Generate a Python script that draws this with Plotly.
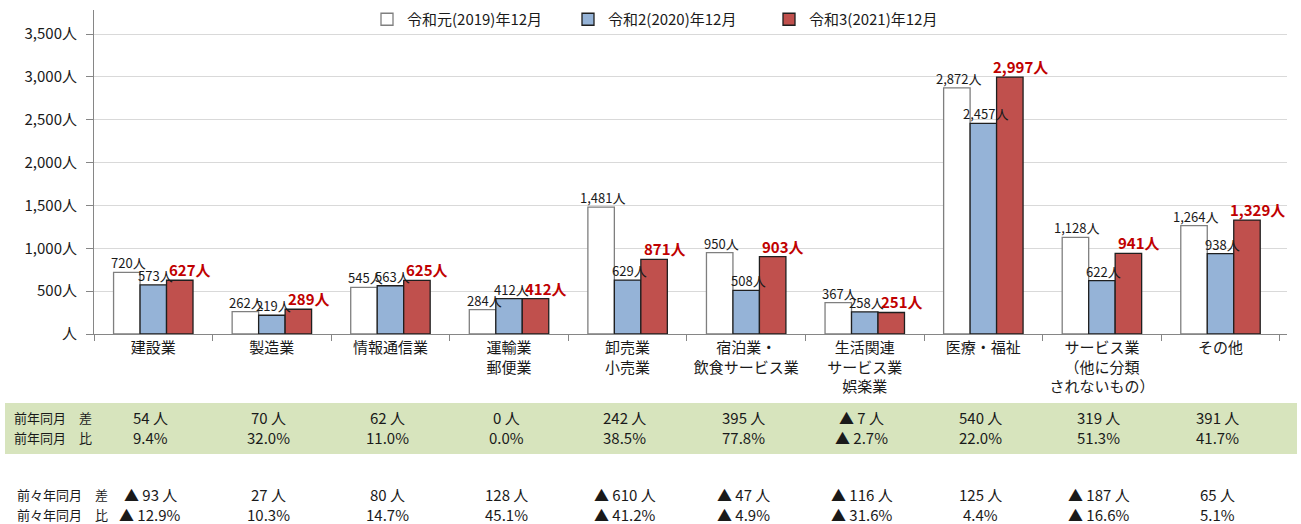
import plotly.graph_objects as go

categories = ["建設業", "製造業", "情報通信業", "運輸業<br>郵便業", "卸売業<br>小売業",
              "宿泊業・<br>飲食サービス業", "生活関連<br>サービス業<br>娯楽業", "医療・福祉",
              "サービス業<br>（他に分類<br>されないもの）", "その他"]
series_names = ["令和元(2019)年12月", "令和2(2020)年12月", "令和3(2021)年12月"]
v2019 = [720, 262, 545, 284, 1481, 950, 367, 2872, 1128, 1264]
v2020 = [573, 219, 563, 412, 629, 508, 258, 2457, 622, 938]
v2021 = [627, 289, 625, 412, 871, 903, 251, 2997, 941, 1329]
y_ticks = [0, 500, 1000, 1500, 2000, 2500, 3000, 3500]
y_ticktext = ["人" if t == 0 else f"{t:,}人" for t in y_ticks]
row_labels = ["前年同月&#8195;差", "前年同月&#8195;比", "前々年同月&#8195;差", "前々年同月&#8195;比"]

FONT = "Noto Sans CJK JP"
W, H = 1301, 524


def fmt_diff(d):
    return (f"▲ {abs(d)} 人" if d < 0 else f"{d} 人")


def fmt_pct(d, base):
    p = round(abs(d) / base * 100, 1)
    return (f"▲ {p:.1f}%" if d < 0 else f"{p:.1f}%")


diff1 = [fmt_diff(c - p) for c, p in zip(v2021, v2020)]
ratio1 = [fmt_pct(c - p, p) for c, p in zip(v2021, v2020)]
diff2 = [fmt_diff(c - p) for c, p in zip(v2021, v2019)]
ratio2 = [fmt_pct(c - p, p) for c, p in zip(v2021, v2019)]

fig = go.Figure()
styles = [
    dict(color="#FFFFFF", line=dict(color="#7F7F7F", width=1.3)),
    dict(color="#95B3D7", line=dict(color="#1F1F1F", width=1.3)),
    dict(color="#C0504D", line=dict(color="#1F1F1F", width=1.3)),
]
for name, vals, st in zip(series_names, [v2019, v2020, v2021], styles):
    fig.add_trace(go.Bar(x=categories, y=vals, name=name, marker=st))

annotations = []
# data labels
for vals, xs, fnt in [
    (v2019, -25, dict(family=FONT, size=13, color="#1a1a1a")),
    (v2020, 2, dict(family=FONT, size=13, color="#1a1a1a")),
    (v2021, 37, dict(family=FONT, size=15, color="#C00000", weight="bold")),
]:
    for c, v in zip(categories, vals):
        annotations.append(dict(x=c, y=v, xref="x", yref="y", text=f"{v:,}人",
                                showarrow=False, yanchor="bottom", xshift=xs, yshift=-2,
                                font=fnt))

# table rows
row_y = [417, 437, 494, 514]
for ry, row in zip(row_y, [diff1, ratio1, diff2, ratio2]):
    for c, t in zip(categories, row):
        annotations.append(dict(x=c, y=1 - ry / H, xref="x", yref="paper", text=t,
                                showarrow=False, yanchor="middle", xshift=-3,
                                font=dict(family=FONT, size=15, color="#1a1a1a")))
for lbl, ry, lx in zip(row_labels, row_y, [12, 12, 15, 15]):
    annotations.append(dict(x=lx / W, y=1 - ry / H, xref="paper", yref="paper", text=lbl,
                            showarrow=False, xanchor="left", yanchor="middle",
                            font=dict(family=FONT, size=13, color="#1a1a1a")))

fig.add_shape(type="rect", xref="paper", yref="paper", x0=5 / W, x1=1297 / W,
              y0=1 - 454 / H, y1=1 - 403 / H, fillcolor="#D7E4BD", line=dict(width=0),
              layer="below")

fig.update_layout(
    width=W, height=H,
    margin=dict(l=0, r=0, t=0, b=0, autoexpand=False),
    paper_bgcolor="white", plot_bgcolor="white",
    barmode="group", bargap=0.33, bargroupgap=0,
    font=dict(family=FONT, size=13, color="#1a1a1a"),
    annotations=annotations,
    legend=dict(orientation="h", x=367 / W, y=1 - 3 / H, xanchor="left", yanchor="top",
                font=dict(family=FONT, size=15, color="#1a1a1a"),
                entrywidth=156, entrywidthmode="pixels", bgcolor="rgba(0,0,0,0)"),
    xaxis=dict(domain=[94 / W, 1287 / W], showline=True, linecolor="#868686", linewidth=1,
               ticks="outside", tickson="boundaries", ticklen=6, tickcolor="#868686",
               showgrid=False, automargin=False,
               tickfont=dict(family=FONT, size=15, color="#1a1a1a")),
    yaxis=dict(domain=[1 - 334 / H, 1 - 10 / H], range=[0, 3780], tickvals=y_ticks,
               ticktext=y_ticktext, showline=True, linecolor="#868686", linewidth=1,
               ticks="outside", ticklen=7, tickcolor="#868686", showgrid=True,
               gridcolor="#D9D9D9", gridwidth=1, zeroline=False, automargin=False,
               ticklabelstandoff=6,
               tickfont=dict(family=FONT, size=15, color="#1a1a1a")),
)

fig.write_html("out.html", config={"displayModeBar": False},
               post_script="document.body.style.margin='0';")
